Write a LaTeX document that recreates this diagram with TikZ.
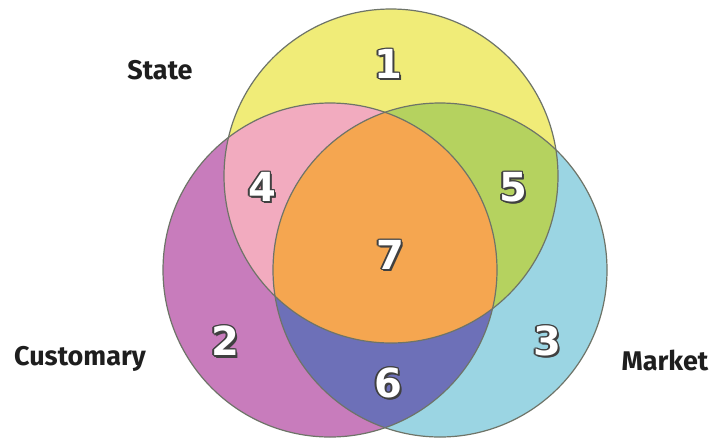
\documentclass[tikz,border=0pt]{standalone}
\usepackage{fontspec}
\setmainfont{Fira Sans}
\newfontfamily\digitfont{DejaVu Sans}
\definecolor{cyel}{HTML}{F0EC78}
\definecolor{cpur}{HTML}{C87CBC}
\definecolor{ccya}{HTML}{9BD5E3}
\definecolor{cpink}{HTML}{F2ABBF}
\definecolor{cgrn}{HTML}{B5D25F}
\definecolor{corg}{HTML}{F5A650}
\definecolor{cblu}{HTML}{6D70B8}
\definecolor{cline}{HTML}{6E7468}
\definecolor{ctxt}{HTML}{1E1E1E}
\newcommand{\regnum}[3]{%
  \foreach \dx/\dy in {-1.3/0,1.3/0,0/-1.3,0/1.3,-1/-1,1/1,-1/1,1/-1,1.8/1.8,2.2/2.2}
    \node[numshadow] at ([shift={(\dx,\dy)}]#2) {#3};
  \node[numtext] (#1) at (#2) {#3};}
\begin{document}
\begin{tikzpicture}[x=1pt,y=-1pt,
  numtext/.style={text=white,font=\digitfont\bfseries\fontsize{40}{40}\selectfont,inner sep=0pt},
  numshadow/.style={text=black!75,font=\digitfont\bfseries\fontsize{40}{40}\selectfont,inner sep=0pt},
  setlabel/.style={text=ctxt,font=\bfseries\fontsize{27}{27}\selectfont,inner sep=0pt},
  outline/.style={draw=cline,line width=1.2pt}]
\useasboundingbox (0,0) rectangle (714,437);
\fill[white] (0,0) rectangle (714,437);
\coordinate (T) at (391,176);
\coordinate (L) at (330,270);
\coordinate (R) at (440,270);
\def\rad{167pt}
% base fills
\fill[cpur] (L) circle[radius=\rad];
\fill[ccya] (R) circle[radius=\rad];
\fill[cyel] (T) circle[radius=\rad];
% pairwise
\begin{scope}
  \clip (T) circle[radius=\rad];
  \fill[cpink] (L) circle[radius=\rad];
  \fill[cgrn] (R) circle[radius=\rad];
\end{scope}
\begin{scope}
  \clip (L) circle[radius=\rad];
  \fill[cblu] (R) circle[radius=\rad];
  \clip (R) circle[radius=\rad];
  \fill[corg] (T) circle[radius=\rad];
\end{scope}
% outlines
\draw[outline] (T) circle[radius=\rad];
\draw[outline] (L) circle[radius=\rad];
\draw[outline] (R) circle[radius=\rad];
% numbers
\regnum{n1}{388,64}{1}
\regnum{n4}{262,187}{4}
\regnum{n5}{513,187}{5}
\regnum{n7}{390,255}{7}
\regnum{n2}{225,341}{2}
\regnum{n3}{547,341}{3}
\regnum{n6}{388,383}{6}
% labels
\node[setlabel] (state) at (160,70) {State};
\node[setlabel] (cust) at (80,359) {Customary};
\node[setlabel] (mkt) at (665,360) {Market};
\end{tikzpicture}
\end{document}
